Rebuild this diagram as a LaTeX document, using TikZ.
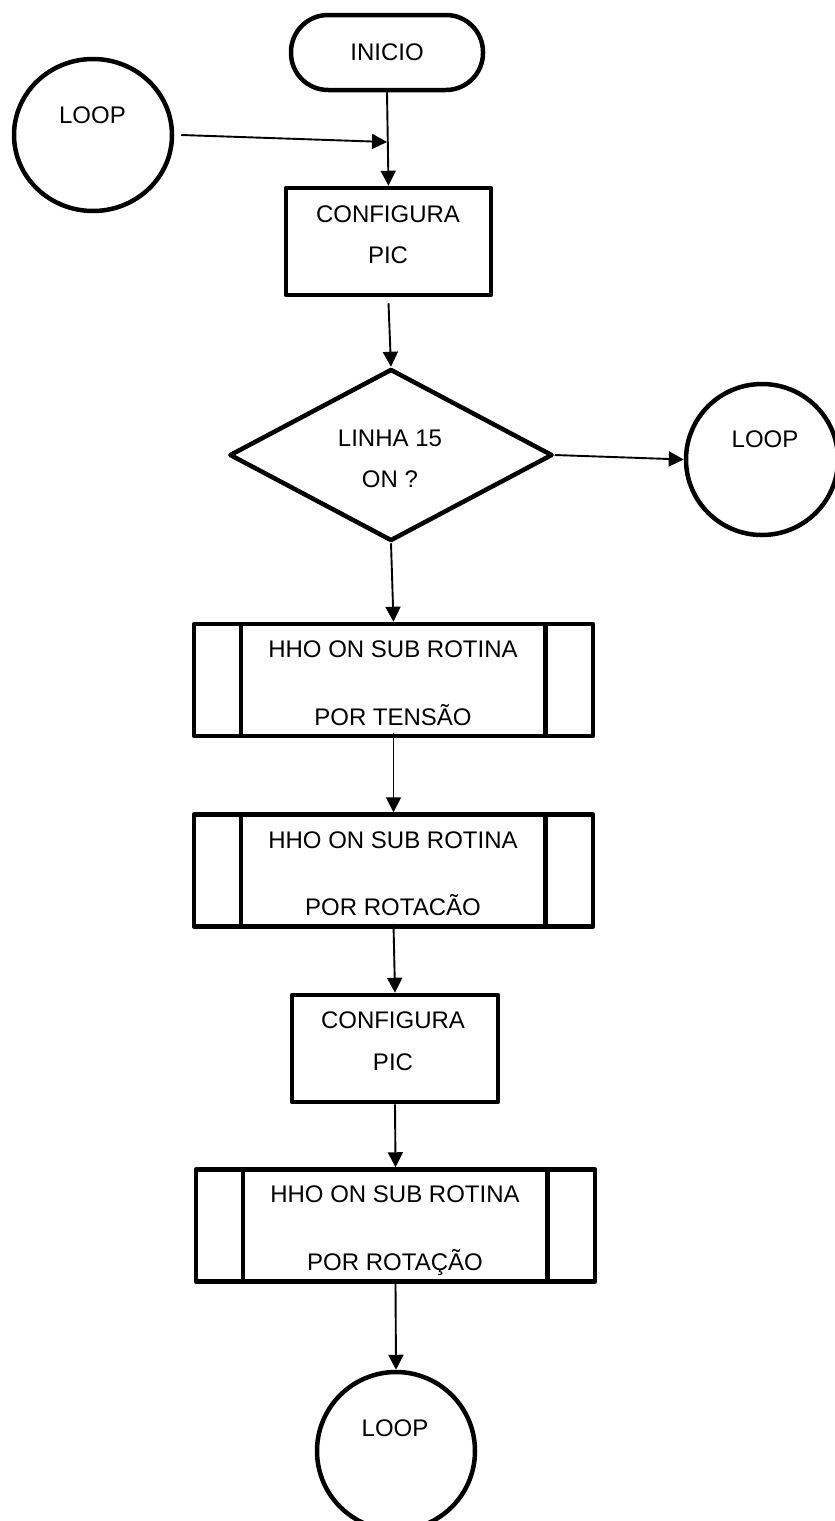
\documentclass[tikz,border=0pt]{standalone}
\usepackage{fontspec}
\setmainfont{Liberation Sans}
\usetikzlibrary{arrows.meta,shapes.geometric}
\begin{document}
\begin{tikzpicture}[x=1pt,y=-1pt,
  shapebox/.style={draw,line width=4.5pt,inner sep=0pt,line join=round},
  procbox/.style={shapebox,rectangle,minimum width=205pt,minimum height=107pt},
  subbox/.style={shapebox,rectangle,minimum width=399pt,minimum height=112pt},
  termbox/.style={shapebox,rectangle,rounded corners=37pt,minimum width=192pt,minimum height=75pt},
  loopbox/.style={shapebox,ellipse},
  decbox/.style={shapebox,diamond,minimum width=323pt,minimum height=172pt},
  lbl/.style={anchor=base,inner sep=0pt,font=\fontsize{24}{28}\selectfont},
  arr/.style={line width=1.9pt,-{Triangle[length=15pt,width=15pt]}},
  innerline/.style={line width=4.5pt}]
\useasboundingbox (0,0) rectangle (835,1521);

% shapes
\node[termbox] (inicio) at (387,52.5) {};
\node[loopbox,minimum width=158pt,minimum height=152pt] (loopA) at (93,135) {};
\node[procbox] (cfgA) at (388.5,241.5) {};
\node[decbox] (dec) at (391,455) {};
\node[loopbox,minimum width=152pt,minimum height=151pt] (loopB) at (762,459.5) {};
\node[subbox] (subA) at (393.5,680) {};
\node[subbox] (subB) at (393.5,870.5) {};
\node[procbox,minimum width=206pt] (cfgB) at (395,1048.5) {};
\node[subbox] (subC) at (395.5,1225.5) {};
\node[loopbox,minimum width=158pt,minimum height=158pt] (loopC) at (396,1451) {};

% inner lines of subroutine boxes
\foreach \s in {subA,subB,subC}{
  \draw[innerline] ([xshift=49pt]\s.north west) -- ([xshift=49pt]\s.south west);
  \draw[innerline] ([xshift=-50pt]\s.north east) -- ([xshift=-50pt]\s.south east);
}

% texts
\node[lbl] (tinicio) at (387,60.5) {INICIO};
\node[lbl] (tloopA) at (92.5,123) {LOOP};
\node[lbl] (tcfgA1) at (388,222) {CONFIGURA};
\node[lbl] (tcfgA2) at (388,263) {PIC};
\node[lbl] (tdec1) at (390,446) {LINHA 15};
\node[lbl] (tdec2) at (390,487) {ON ?};
\node[lbl] (tloopB) at (765,447) {LOOP};
\node[lbl] (tsubA1) at (393,657) {HHO ON SUB ROTINA};
\node[lbl] (tsubA2) at (393,725) {POR TENSÃO};
\node[lbl] (tsubB1) at (393,848) {HHO ON SUB ROTINA};
\node[lbl] (tsubB2) at (393,915) {POR ROTACÃO};
\node[lbl] (tcfgB1) at (393,1028) {CONFIGURA};
\node[lbl] (tcfgB2) at (393,1070) {PIC};
\node[lbl] (tsubC1) at (395,1202) {HHO ON SUB ROTINA};
\node[lbl] (tsubC2) at (395,1270) {POR ROTAÇÃO};
\node[lbl] (tloopC) at (395,1436) {LOOP};

% connectors
\coordinate (join) at (387,142);
\draw[arr] (inicio.south) -- (cfgA.north);
\draw[arr] ([xshift=7pt]loopA.east) -- (join);
\draw[arr] ([yshift=-6pt]cfgA.south) -- (dec.north);
\draw[arr] (dec.east) -- (loopB.west);
\draw[arr] (dec.south) -- (subA.north);
\draw[arr] ([yshift=5pt]subA.south) -- (subB.north);
\draw[arr] ([yshift=5pt]subB.south) -- (cfgB.north);
\draw[arr] (cfgB.south) -- (subC.north);
\draw[arr] (subC.south) -- (loopC.north);
\end{tikzpicture}
\end{document}
